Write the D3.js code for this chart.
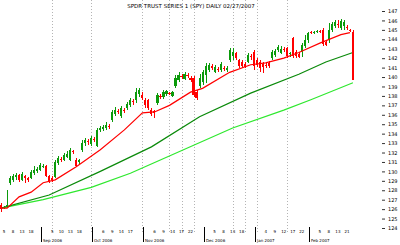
<!DOCTYPE html>
<html>
<head>
<meta charset="utf-8">
<script src="https://cdn.jsdelivr.net/npm/d3@7"></script>
<style>
  body { margin: 0; background: #fff; }
  svg { display: block; }
  text { font-family: 'DejaVu Sans', sans-serif; fill: #000; }
</style>
</head>
<body>
<svg width="400" height="245"></svg>
<script>
(function () {
    'use strict';

    // daily candles, oldest first
    var open = [126.4,126.1,126.2,128.8,129.1,129.4,129.6,129.1,129.5,129.3,129.3,129.8,130.0,130.1,130.6,130.6,129.5,129.3,129.4,130.9,
        131.3,131.2,131.5,131.2,132.2,131.2,131.0,132.3,133.0,133.2,132.9,133.4,132.7,134.4,134.5,134.6,134.8,135.4,136.1,136.4,
        135.9,136.5,136.7,137.0,137.5,137.6,138.2,138.1,137.6,137.6,136.5,136.4,137.3,138.0,137.9,138.2,138.3,138.0,139.1,139.7,
        140.1,139.8,140.2,139.9,139.9,138.4,139.1,139.5,140.2,140.7,141.2,140.5,140.9,140.7,141.0,140.7,141.8,142.2,142.6,141.8,
        141.6,141.4,141.6,142.2,142.7,141.8,141.6,141.4,141.3,141.5,142.0,142.3,142.9,142.6,143.0,143.1,142.4,144.1,142.7,142.4,
        142.7,143.3,143.9,144.8,144.7,144.8,144.9,145.0,143.7,143.9,145.0,145.4,145.6,145.2,145.4,145.3,145.0,144.8];
    var close = [126.0,126.2,126.4,129.3,129.5,129.6,129.1,129.7,129.3,129.1,129.9,130.1,130.3,130.7,130.6,129.5,129.0,129.1,131.0,131.4,
        131.2,131.7,131.8,132.3,132.1,130.6,131.2,133.0,133.3,133.1,133.5,133.3,134.4,134.6,134.7,134.9,134.7,136.3,136.5,136.3,
        136.7,136.4,137.1,137.6,137.4,138.4,138.6,137.8,137.0,136.7,136.1,136.2,138.1,137.9,138.4,138.5,138.2,138.4,139.9,140.2,
        140.0,140.3,140.1,139.7,138.1,137.8,139.9,140.5,141.2,141.3,141.0,141.1,140.7,141.4,140.9,141.0,142.9,142.7,142.0,141.2,
        141.2,141.1,142.3,142.1,141.2,141.3,141.0,141.1,141.2,141.2,142.7,142.8,143.2,143.0,142.9,142.2,142.6,142.2,142.2,142.1,
        143.4,143.9,144.7,144.7,144.8,144.9,144.8,143.5,143.4,145.0,145.6,145.8,145.5,145.9,145.8,145.2,144.9,139.7];
    var high = [126.7,126.3,128.0,129.5,129.7,129.8,129.7,129.9,129.6,129.4,130.1,130.6,130.5,130.9,130.8,130.7,129.6,129.5,131.2,131.6,
        131.5,132.0,132.2,132.5,132.3,131.4,131.3,133.3,133.5,133.4,133.8,133.6,134.6,134.8,134.9,135.2,135.0,136.5,136.8,136.6,
        136.9,136.7,137.4,137.8,137.7,138.8,138.8,138.4,137.8,137.7,136.7,136.5,138.3,138.2,138.6,138.6,138.4,138.5,140.2,140.5,
        140.3,140.5,140.4,140.1,140.1,138.6,140.3,140.7,141.5,141.5,141.4,141.3,141.1,141.6,141.2,141.2,143.1,143.1,142.7,141.9,
        141.8,141.6,142.6,142.4,142.9,142.0,141.8,141.6,141.5,141.7,142.9,143.0,143.4,143.3,143.2,143.2,142.7,144.2,142.9,142.7,
        143.6,144.5,144.8,144.9,144.9,145.0,145.0,145.2,143.8,145.7,145.8,146.0,146.0,146.2,146.0,145.5,145.1,145.0];
    var low = [125.7,126.0,126.1,128.6,128.9,129.1,128.9,129.0,128.8,128.9,129.2,129.6,129.8,130.0,130.4,129.4,128.8,128.9,129.3,130.7,
        131.0,131.1,131.4,131.1,131.8,130.5,130.8,132.1,132.7,132.8,132.7,133.1,132.6,134.2,134.3,134.4,134.5,135.2,135.9,136.1,
        135.7,136.2,136.5,136.8,137.0,137.3,137.9,137.6,136.7,136.5,135.9,135.7,137.0,137.7,137.7,138.0,138.1,137.9,138.8,139.5,
        139.8,139.7,139.9,139.5,137.9,137.6,138.8,139.2,139.4,140.5,140.7,140.4,140.5,140.5,140.6,140.5,141.6,141.8,141.8,141.0,
        141.0,141.0,141.5,141.8,140.7,141.1,140.5,140.4,141.0,141.0,141.8,142.1,142.7,142.4,142.7,142.0,142.1,142.0,142.0,142.0,
        142.1,143.1,143.6,144.6,144.6,144.7,144.7,143.3,143.3,143.6,144.8,145.2,145.2,145.0,145.0,145.0,144.8,139.7];

    // moving averages, read at these candle positions
    var maFastIdx = [0, 2, 6, 10, 14, 18, 25, 33, 41, 47, 51, 56, 63, 67, 76, 83, 88, 94, 99, 106, 113, 116];
    var maFastVal = [126.1, 126.1, 127.3, 127.8, 128.8, 129.1, 130.5, 132.3, 134.4, 136.2, 136.3, 137.0, 138.4, 138.8, 140.5, 141.3, 141.5, 142.0, 142.6, 143.6, 144.5, 144.7];
    var maMidIdx = [0, 16, 33, 50, 66, 83, 99, 108, 117];
    var maMidVal = [126.1, 127.5, 130.0, 132.6, 135.8, 138.3, 140.3, 141.6, 142.6];
    var maSlowIdx = [0, 14, 30, 43, 77, 94, 103, 117];
    var maSlowVal = [126.1, 127.0, 128.3, 129.8, 134.6, 136.5, 137.6, 139.4];

    var priceTicks = d3.range(124, 148);
    var gridIdx = [17, 30, 47, 56, 60, 64, 77, 81, 85, 95];
    var monthIdx = [14, 31, 48, 68, 85, 103];
    var monthLabels = ['Sep 2006', 'Oct 2006', 'Nov 2006', 'Dec 2006', 'Jan 2007', 'Feb 2007'];
    var dayIdx = [1, 4, 7, 10, 17, 20, 23, 26, 34, 37, 40, 43, 51, 54, 57, 60, 63, 71, 74, 77, 80, 88, 91, 94, 97, 100, 106, 109, 112, 115];
    var dayLabels = ['5','8','13','18','5','10','13','18','6','9','14','17','6','9','14','17','22','5','8','13','18','4','9','12','17','22','5','8','13','21'];
    var title = 'SPDR TRUST SERIES 1 (SPY)  DAILY  02/27/2007';

    var svg = d3.select('svg');
    var N = close.length;

    var x = d3.scaleBand()
        .domain(d3.range(N))
        .range([0, 354])
        .paddingInner(0.3);
    var y = d3.scaleLinear()
        .domain([124, 147])
        .range([228, 11]);
    var bw = x.bandwidth();
    var cx = function (i) { return x(i) + bw / 2; };

    // dotted grid
    svg.append('g').selectAll('line')
        .data(gridIdx)
        .enter().append('line')
        .attr('x1', function (d) { return Math.round(cx(d)) + 0.5; })
        .attr('x2', function (d) { return Math.round(cx(d)) + 0.5; })
        .attr('y1', 0)
        .attr('y2', 232)
        .attr('stroke', '#b4b4b4')
        .attr('stroke-dasharray', '1,2');

    svg.append('text')
        .attr('x', 191)
        .attr('y', 8)
        .attr('text-anchor', 'middle')
        .attr('font-size', 5.5)
        .attr('fill', '#222')
        .text(title);

    // moving averages
    function maLine(idx, val, color) {
        var pts = idx.map(function (d, k) { return [d, val[k]]; });
        svg.append('path')
            .datum(pts)
            .attr('fill', 'none')
            .attr('stroke', color)
            .attr('stroke-width', 1.2)
            .attr('d', d3.line()
                .x(function (p) { return cx(p[0]); })
                .y(function (p) { return y(p[1]); }));
    }
    maLine(maSlowIdx, maSlowVal, '#2ee82e');
    maLine(maMidIdx, maMidVal, '#0a8a0a');

    // candles
    var candles = d3.range(N).map(function (i) {
        return { i: i, o: open[i], c: close[i], h: high[i], l: low[i] };
    });
    var color = function (d) { return d.c >= d.o ? '#0b9a0b' : '#ff0000'; };
    var gC = svg.append('g').attr('shape-rendering', 'crispEdges');
    gC.selectAll('line')
        .data(candles)
        .enter().append('line')
        .attr('x1', function (d) { return Math.round(cx(d.i)) + 0.5; })
        .attr('x2', function (d) { return Math.round(cx(d.i)) + 0.5; })
        .attr('y1', function (d) { return y(d.h); })
        .attr('y2', function (d) { return y(d.l); })
        .attr('stroke', color);
    gC.selectAll('rect')
        .data(candles)
        .enter().append('rect')
        .attr('x', function (d) { return x(d.i); })
        .attr('width', bw)
        .attr('y', function (d) { return y(Math.max(d.o, d.c)); })
        .attr('height', function (d) { return Math.max(1, Math.abs(y(d.o) - y(d.c))); })
        .attr('fill', color);

    maLine(maFastIdx, maFastVal, '#ff0000');

    // right price axis
    var yAxis = svg.append('g')
        .attr('transform', 'translate(382,0)')
        .call(d3.axisRight(y).tickValues(priceTicks).tickSize(3).tickPadding(3).tickFormat(d3.format('d')));
    yAxis.select('.domain').remove();
    yAxis.selectAll('line').attr('stroke', '#333');
    yAxis.selectAll('text').attr('font-size', 5).attr('font-family', 'DejaVu Sans').attr('fill', '#222');

    // bottom date axis
    var gX = svg.append('g');
    gX.selectAll('text.day')
        .data(dayIdx)
        .enter().append('text')
        .attr('class', 'day')
        .attr('x', function (d) { return cx(d); })
        .attr('y', 233)
        .attr('text-anchor', 'middle')
        .attr('font-size', 4)
        .attr('fill', '#333')
        .text(function (d, k) { return dayLabels[k]; });
    gX.selectAll('line')
        .data(monthIdx)
        .enter().append('line')
        .attr('x1', function (d) { return Math.round(x(d)) - 0.5; })
        .attr('x2', function (d) { return Math.round(x(d)) - 0.5; })
        .attr('y1', 227)
        .attr('y2', 242)
        .attr('stroke', '#000');
    gX.selectAll('text.month')
        .data(monthIdx)
        .enter().append('text')
        .attr('class', 'month')
        .attr('x', function (d) { return Math.round(x(d)) + 1; })
        .attr('y', 242)
        .attr('font-size', 4)
        .attr('fill', '#222')
        .text(function (d, k) { return monthLabels[k]; });
}());
</script>
</body>
</html>
